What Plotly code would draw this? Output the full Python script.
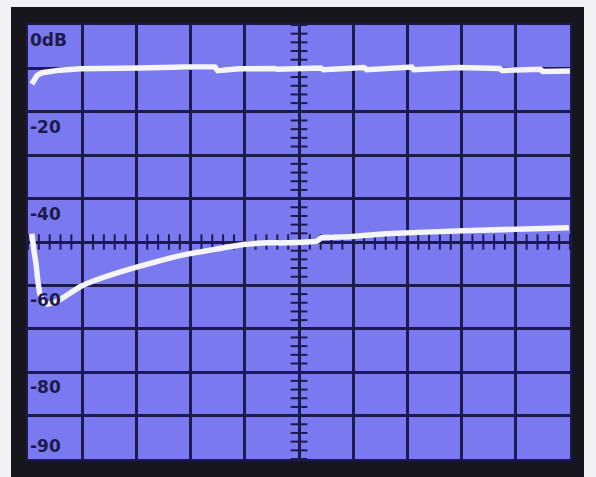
import numpy as np
import plotly.graph_objects as go

# Upper trace (divisions along x, level in dB)
upper_x = [0.07, 0.11, 0.17, 0.26, 0.41, 0.59, 0.96, 1.5, 2.0, 2.05, 2.9, 3.45, 3.5, 3.9,
           4.55, 4.6, 5.4, 5.45, 6.2, 6.25, 7.08, 7.12, 7.95, 8.7, 8.75, 9.45, 9.5, 10.0]
upper_db = [-13.6, -12.5, -11.6, -11.0, -10.6, -10.4, -10.1, -10.1, -10.2, -9.9, -9.7, -9.7, -10.5, -10.1,
            -10.0, -10.2, -9.9, -10.3, -9.8, -10.3, -9.7, -10.3, -9.8, -10.0, -10.5, -10.2, -10.7, -10.6]

# Lower trace
lower_x = [0.07, 0.11, 0.15, 0.18, 0.22, 0.28, 0.35, 0.5, 0.68, 0.96, 1.33, 1.94, 2.44, 2.93,
           3.45, 3.97, 4.46, 4.7, 5.33, 5.42, 5.94, 6.6, 8.03, 9.98]
lower_db = [-48.1, -52.0, -55.2, -58.8, -62.0, -63.7, -64.3, -63.9, -62.6, -60.3, -58.4, -56.0, -54.3, -52.8,
            -51.7, -50.6, -50.2, -50.2, -49.8, -49.0, -48.8, -48.1, -47.4, -46.7]

# Scale labels printed on the screen
label_text = ["0dB", "-20", "-40", "-60", "-80", "-90"]
label_y = [0, -20, -40, -60, -80, -100]
label_anchor = ["top", "top", "top", "top", "top", "bottom"]

GRID = "#1d1b4e"
BLUE = "#7b79ef"
TRACE = "#f4f4fb"

fig = go.Figure()

# graticule minor ticks on center cross
tx = np.arange(0, 10.001, 0.2)
fig.add_trace(go.Scatter(x=tx, y=np.full(len(tx), -50.0), mode="markers",
                         marker=dict(symbol="line-ns", size=11, line=dict(width=2, color=GRID)),
                         hoverinfo="skip", showlegend=False))
ty = np.arange(-100, 0.001, 2)
fig.add_trace(go.Scatter(x=np.full(len(ty), 5.0), y=ty, mode="markers",
                         marker=dict(symbol="line-ew", size=12, line=dict(width=2, color=GRID)),
                         hoverinfo="skip", showlegend=False))

fig.add_trace(go.Scatter(x=upper_x, y=upper_db, mode="lines",
                         line=dict(color=TRACE, width=5.5), showlegend=False))
fig.add_trace(go.Scatter(x=lower_x, y=lower_db, mode="lines",
                         line=dict(color=TRACE, width=5.5, shape="spline", smoothing=0.4), showlegend=False))

for t, y, a in zip(label_text, label_y, label_anchor):
    fig.add_annotation(x=0, y=y, xref="x", yref="y", text="<b>%s</b>" % t, showarrow=False,
                       xanchor="left", yanchor=a, xshift=0, yshift=-3 if a == "top" else 1,
                       font=dict(family="DejaVu Sans", size=17, color=GRID))

W, H = 596, 477
ml, mr, mt, mb = 28, 26, 25, 18
pw, ph = W - ml - mr, H - mt - mb

# instrument bezel and screen
fig.add_shape(type="rect", xref="paper", yref="paper",
              x0=(11 - ml) / pw, x1=(584 - ml) / pw,
              y0=-(mb + 5) / ph, y1=(H - mb - 7) / ph,
              fillcolor="#17161c", line=dict(width=0), layer="below")
fig.add_shape(type="rect", xref="paper", yref="paper", x0=0, x1=1, y0=0, y1=1,
              fillcolor=BLUE, line=dict(width=0), layer="below")

fig.update_xaxes(range=[0, 10], dtick=1, showgrid=True, gridcolor=GRID, gridwidth=2.5,
                 showticklabels=False, zeroline=False, showline=True, linecolor=GRID, linewidth=2, mirror=True,
                 ticks="")
fig.update_yaxes(range=[-100, 0], dtick=10, showgrid=True, gridcolor=GRID, gridwidth=2.5,
                 showticklabels=False, zeroline=False, showline=True, linecolor=GRID, linewidth=2, mirror=True,
                 ticks="")

fig.update_layout(width=W, height=H, margin=dict(l=ml, r=mr, t=mt, b=mb),
                  paper_bgcolor="#f1f1f3", plot_bgcolor="rgba(0,0,0,0)", showlegend=False)

fig.write_html("out.html", config={"displayModeBar": False},
               post_script="document.body.style.margin='0px';document.body.style.overflow='hidden';"
                           "document.body.style.background='#f1f1f3';")
